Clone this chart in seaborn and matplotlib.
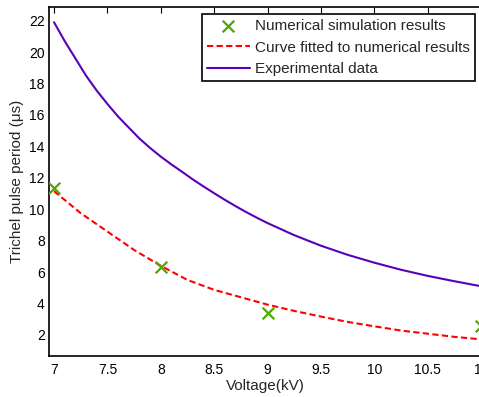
import numpy as np
import pandas as pd
import matplotlib
matplotlib.use("Agg")
import matplotlib.pyplot as plt
import seaborn as sns

# Numerical simulation points
sim_voltage = [7, 8, 9, 11]
sim_period = [11.35, 6.3, 3.38, 2.55]

# Curve fitted to numerical results
fit_voltage = [7.0, 7.25, 7.5, 7.75, 8.0, 8.25, 8.5, 8.75, 9.0, 9.25, 9.5, 9.75, 10.0, 10.25, 10.5, 10.75, 11.0]
fit_period = [11.15, 9.75, 8.58, 7.41, 6.4, 5.5, 4.87, 4.4, 3.93, 3.53, 3.17, 2.83, 2.55, 2.28, 2.08, 1.88, 1.72]

# Experimental data
exp_voltage = [7.0, 7.1, 7.2, 7.3, 7.4, 7.5, 7.6, 7.7, 7.8, 7.9, 8.0, 8.1, 8.2, 8.3, 8.4,
               8.5, 8.6, 8.7, 8.8, 8.9, 9.0, 9.25, 9.5, 9.75, 10.0, 10.25, 10.5, 10.75, 11.0]
exp_period = [21.9, 20.7, 19.6, 18.5, 17.55, 16.7, 15.9, 15.2, 14.5, 13.9, 13.35, 12.85, 12.38, 11.9, 11.45,
              11.02, 10.6, 10.2, 9.82, 9.46, 9.12, 8.35, 7.68, 7.1, 6.6, 6.15, 5.76, 5.42, 5.1]

sim = pd.DataFrame({"voltage": sim_voltage, "period": sim_period})
fit = pd.DataFrame({"voltage": fit_voltage, "period": fit_period})
exp = pd.DataFrame({"voltage": exp_voltage, "period": exp_period})

sns.set_style("white")
plt.rcParams["font.family"] = ["Liberation Sans", "DejaVu Sans"]

fig = plt.figure(figsize=(4.79, 3.97), dpi=100)
ax = fig.add_axes([49 / 479, 41.3 / 397, 432 / 479, 348.4 / 397])

sns.scatterplot(x="voltage", y="period", data=sim, marker="x", s=70,
                color="#4fa800", linewidth=1.6, ax=ax,
                label="Numerical simulation results", zorder=3)
sns.lineplot(x="voltage", y="period", data=fit, color="#ff0000",
             linestyle=(0, (3, 1.6)), linewidth=1.5, ax=ax,
             label="Curve fitted to numerical results")
sns.lineplot(x="voltage", y="period", data=exp, color="#5a00b8",
             linewidth=1.5, ax=ax, label="Experimental data")

ax.set_xlim(6.953, 11.0)
ax.set_ylim(0.68, 22.85)
ax.set_xticks([7, 7.5, 8, 8.5, 9, 9.5, 10, 10.5, 11])
ax.set_xticklabels(["7", "7.5", "8", "8.5", "9", "9.5", "10", "10.5", "11"])
ax.set_yticks(range(2, 23, 2))
ax.tick_params(direction="in", length=4, width=0.8, top=True, right=False,
               labelsize=10, colors="black", pad=3)
ax.tick_params(axis="x", pad=5)
for s in ax.spines.values():
    s.set_color("black")
    s.set_linewidth(1.2)

ax.set_xlabel("Voltage(kV)", fontsize=11, labelpad=2)
ax.set_ylabel("Trichel pulse period (μs)", fontsize=11, labelpad=4)

leg = ax.legend(loc="upper right", bbox_to_anchor=(475 / 479, 383 / 397),
                bbox_transform=fig.transFigure,
                fontsize=11, frameon=True, fancybox=False, framealpha=1,
                edgecolor="black", borderpad=0.33, labelspacing=0.5,
                handlelength=2.8, handletextpad=0.35, borderaxespad=0)
leg.get_frame().set_linewidth(1.2)

fig.savefig("out.png", dpi=100)
